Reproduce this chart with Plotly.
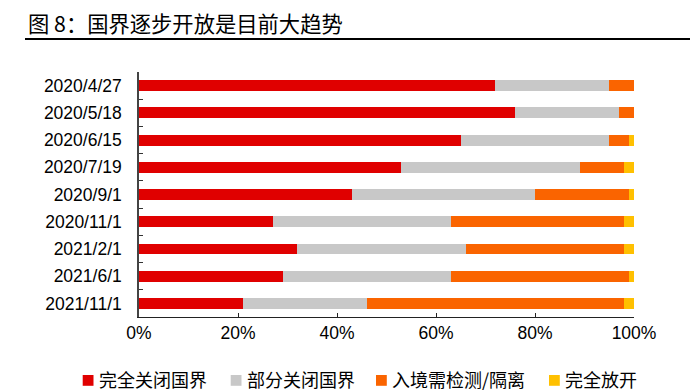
import plotly.graph_objects as go

dates = ["2020/4/27", "2020/5/18", "2020/6/15", "2020/7/19", "2020/9/1",
         "2020/11/1", "2021/2/1", "2021/6/1", "2021/11/1"]
full_close = [72, 76, 65, 53, 43, 27, 32, 29, 21]
partial_close = [23, 21, 30, 36, 37, 36, 34, 34, 25]
test_quarantine = [5, 3, 4, 9, 19, 35, 32, 36, 52]
full_open = [0, 0, 1, 2, 1, 2, 2, 1, 2]

series_names = ["完全关闭国界", "部分关闭国界", "入境需检测/隔离", "完全放开"]
series_values = [full_close, partial_close, test_quarantine, full_open]
series_colors = ["#E00000", "#C8C8C8", "#FA6400", "#FFC000"]

W, H = 690, 392
L, R, T, B = 139, 56, 72, 75
PW, PH = W - L - R, H - T - B


def px(x):
    return (x - L) / PW


def py(y):
    return (H - B - y) / PH


fig = go.Figure()
for name, vals, color in zip(series_names, series_values, series_colors):
    fig.add_trace(go.Bar(
        y=dates, x=vals, name=name, orientation="h",
        marker=dict(color=color, line=dict(width=0)),
        hoverinfo="x+y+name",
    ))

cjk = "Noto Sans CJK SC"
latin = "Liberation Sans, Arial"

# custom legend (square + label), laid out like the reference
legend_x = [82.7, 230.7, 376.0, 549.0]
sq = 10.8
sq_top = 375.0
text_mid = 379.0
shapes = [dict(
    type="line", xref="paper", yref="paper",
    x0=px(25), x1=px(690), y0=py(39), y1=py(39),
    line=dict(color="black", width=2),
)]
annotations = [dict(
    text="图 8：国界逐步开放是目前大趋势",
    xref="paper", yref="paper", x=px(26), y=py(22.5),
    xanchor="left", yanchor="middle", showarrow=False,
    font=dict(family=cjk, size=21.3, color="black"),
)]
for lx, name, color in zip(legend_x, series_names, series_colors):
    shapes.append(dict(
        type="rect", xref="paper", yref="paper",
        x0=px(lx), x1=px(lx + sq), y0=py(sq_top + sq), y1=py(sq_top),
        fillcolor=color, line=dict(width=0),
    ))
    annotations.append(dict(
        text=name, xref="paper", yref="paper",
        x=px(lx + 15), y=py(text_mid), xanchor="left", yanchor="middle",
        showarrow=False, borderpad=0,
        font=dict(family=cjk, size=18, color="black"),
    ))

fig.update_layout(
    barmode="stack",
    bargap=0.6,
    width=W, height=H,
    margin=dict(l=L, r=R, t=T, b=B, autoexpand=False),
    paper_bgcolor="white", plot_bgcolor="white",
    showlegend=False,
    xaxis=dict(
        range=[0, 100], dtick=20, tick0=0, ticksuffix="%",
        showgrid=False, zeroline=False, automargin=False,
        showline=True, linecolor="#222222", linewidth=1.2,
        ticks="inside", ticklen=4, tickcolor="#222222",
        tickfont=dict(family=latin, size=17.5, color="black"),
        fixedrange=True,
    ),
    yaxis=dict(
        autorange="reversed", type="category",
        showgrid=False, zeroline=False, automargin=False,
        showline=True, linecolor="#444444", linewidth=1.5,
        ticks="inside", ticklen=4, tickcolor="#333333", tickson="boundaries",
        tickfont=dict(family=latin, size=17.5, color="black"),
        ticklabelstandoff=12,
        fixedrange=True,
    ),
    annotations=annotations,
    shapes=shapes,
)

fig.write_html(
    "out.html",
    config={"displayModeBar": False},
    post_script="document.body.style.margin='0';document.body.style.overflow='hidden';",
)
